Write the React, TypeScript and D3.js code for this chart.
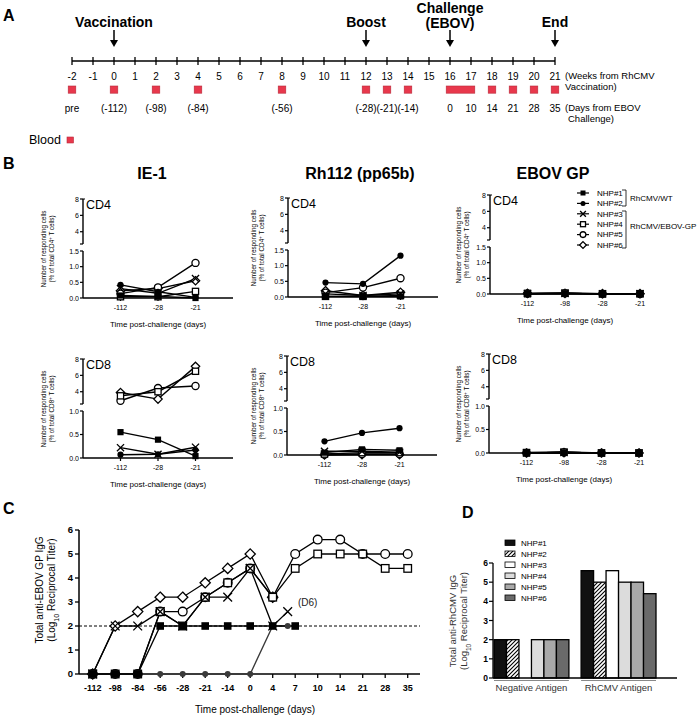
import React from 'react';
import * as d3 from 'd3';

const FONT = "'Liberation Sans', Arial, Helvetica, sans-serif";

// ---------- Panel A data ----------
const weekTicks = [-2, -1, 0, 1, 2, 3, 4, 5, 6, 7, 8, 9, 10, 11, 12, 13, 14, 15, 16, 17, 18, 19, 20, 21];
const bloodWeeks = [-2, 0, 2, 4, 8, 12, 13, 14, 18, 19, 20, 21];
const bloodSpan = [16, 17];
const dayLabelWeeks = [-2, 0, 2, 4, 8, 12, 13, 14, 16, 17, 18, 19, 20, 21];
const dayLabelTexts = ['pre', '(-112)', '(-98)', '(-84)', '(-56)', '(-28)', '(-21)', '(-14)', '0', '10', '14', '21', '28', '35'];
const eventWeeks = [0, 12, 16, 21];
const eventNames = [['Vaccination'], ['Boost'], ['Challenge', '(EBOV)'], ['End']];

// ---------- Panel B data ----------
const nhpNames = ['NHP#1', 'NHP#2', 'NHP#3', 'NHP#4', 'NHP#5', 'NHP#6'];
const nhpMarkers = ['sq', 'ci', 'x', 'osq', 'oci', 'odi'];
const bCats3 = ['-112', '-28', '-21'];
const bCats4 = ['-112', '-98', '-28', '-21'];
const ie1CD4 = [
  [0.08, 0.05, 0.0],
  [0.42, 0.2, 0.02],
  [0.3, 0.15, 0.62],
  [0.04, 0.04, 0.21],
  [0.14, 0.34, 1.12],
  [0.23, 0.3, 0.55],
];
const rh112CD4 = [
  [0.02, 0.02, 0.02],
  [0.46, 0.42, 1.32],
  [0.1, 0.05, 0.1],
  [0.02, 0.02, 0.05],
  [0.14, 0.3, 0.6],
  [0.2, 0.05, 0.15],
];
const ebovCD4 = [
  [0.01, 0.02, 0.0, 0.0],
  [0.01, 0.02, 0.0, 0.0],
  [0.01, 0.02, 0.0, 0.01],
  [0.02, 0.03, 0.01, 0.01],
  [0.01, 0.02, 0.0, 0.0],
  [0.02, 0.02, 0.01, 0.01],
];
const ie1CD8 = [
  [0.55, 0.39, 0.04],
  [0.07, 0.08, 0.17],
  [0.22, 0.08, 0.23],
  [3.5, 4.0, 6.5],
  [2.9, 4.45, 4.7],
  [3.9, 3.1, 7.1],
];
const rh112CD8 = [
  [0.05, 0.12, 0.1],
  [0.29, 0.47, 0.57],
  [0.08, 0.08, 0.06],
  [0.02, 0.05, 0.05],
  [0.01, 0.02, 0.02],
  [0.0, 0.01, 0.01],
];
const ebovCD8 = [
  [0.0, 0.01, 0.0, 0.0],
  [0.0, 0.01, 0.0, 0.0],
  [0.0, 0.01, 0.0, 0.0],
  [0.01, 0.02, 0.0, 0.0],
  [0.0, 0.01, 0.0, 0.0],
  [0.0, 0.01, 0.0, 0.0],
];

// ---------- Panel C data ----------
const cTickDays = [-112, -98, -84, -56, -28, -21, -14, 0, 4, 7, 10, 14, 21, 28, 35];
const cDaysNHP1 = [-112, -98, -84, -56, -28, -21, -14, 0, 4, 7];
const cValsNHP1 = [0, 0, 0, 2, 2, 2, 2, 2, 2, 2];
const cDaysNHP2 = [-112, -98, -84, -56, -28, -21, -14, 0, 4, 6];
const cValsNHP2 = [0, 0, 0, 0, 0, 0, 0, 0, 2, 2];
const cDaysNHP3 = [-112, -98, -84, -56, -28, -21, -14, 0, 4, 6];
const cValsNHP3 = [0, 2, 2, 2.6, 2, 3.2, 3.2, 4.4, 2, 2.6];
const cDaysNHP4 = [-112, -98, -84, -56, -28, -21, -14, 0, 4, 7, 10, 14, 21, 28, 35];
const cValsNHP4 = [0, 0, 0, 2.6, 2, 3.2, 3.8, 4.4, 3.2, 4.4, 5, 5, 5, 4.4, 4.4];
const cDaysNHP5 = [-112, -98, -84, -56, -28, -21, -14, 0, 4, 7, 10, 14, 21, 28, 35];
const cValsNHP5 = [0, 0, 0, 2.6, 2.6, 3.2, 3.8, 4.4, 3.2, 5, 5.6, 5.6, 5, 5, 5];
const cDaysNHP6 = [-112, -98, -84, -56, -28, -21, -14, 0, 4];
const cValsNHP6 = [0, 2, 2.6, 3.2, 3.2, 3.8, 4.4, 5, 3.2];
const cThreshold = 2;
const cYTicks = [0, 1, 2, 3, 4, 5, 6];

// ---------- Panel D data ----------
const dGroups = ['Negative Antigen', 'RhCMV Antigen'];
const dNegative = [2, 2, null, 2, 2, 2];
const dRhCMV = [5.6, 5.0, 5.6, 5.0, 5.0, 4.4];
const dFills = ['#111111', 'url(#hatch)', '#ffffff', '#dcdcdc', '#a9a9a9', '#6a6a6a'];
const dYTicks = [0, 1, 2, 3, 4, 5, 6];

function Marker({ type, x, y, s = 3, fill }: { type: string; x: number; y: number; s?: number; fill?: string }) {
  const sw = 1.3;
  switch (type) {
    case 'sq':
      return <rect x={x - s} y={y - s} width={2 * s} height={2 * s} fill="#000" />;
    case 'osq':
      return <rect x={x - s} y={y - s} width={2 * s} height={2 * s} fill="#fff" stroke="#000" strokeWidth={sw} />;
    case 'ci':
      return <circle cx={x} cy={y} r={s} fill={fill || '#000'} />;
    case 'oci':
      return <circle cx={x} cy={y} r={s * 1.15} fill="#fff" stroke="#000" strokeWidth={sw} />;
    case 'odi': {
      const d = s * 1.35;
      return <path d={`M${x},${y - d}L${x + d},${y}L${x},${y + d}L${x - d},${y}Z`} fill="#fff" stroke="#000" strokeWidth={sw} />;
    }
    case 'x': {
      const d = s * 1.15;
      return <path d={`M${x - d},${y - d}L${x + d},${y + d}M${x + d},${y - d}L${x - d},${y + d}`} stroke="#000" strokeWidth={sw} fill="none" />;
    }
  }
  return null;
}

function SubPlot({ axisX, y0, cats, data, bottomMax, bottomTicks, cell, lab1, lab2, legend }: any) {
  const base = y0 + 99;
  const low = d3.scaleLinear().domain([0, bottomMax]).range([base, y0 + 52]);
  const high = d3.scaleLinear().domain([2.5, 8]).range([y0 + 45, y0]);
  const y = (v: number) => (v <= bottomMax ? low(v) : high(v));
  const x = d3.scaleLinear().domain([0, 4]).range([axisX, axisX + 150]);
  const line = d3.line<number>().x((_, i) => x(i + 1)).y((v) => y(v));
  const midY = y0 + 50;
  const order = [5, 4, 3, 2, 1, 0];
  return (
    <g fontFamily={FONT}>
      <line x1={axisX} x2={axisX} y1={y0} y2={y0 + 45} stroke="#000" strokeWidth={1.4} />
      <line x1={axisX - 3} x2={axisX} y1={y0 + 45} y2={y0 + 45} stroke="#000" strokeWidth={1.2} />
      <line x1={axisX} x2={axisX + 2} y1={y0} y2={y0} stroke="#000" strokeWidth={1.2} />
      {[4, 6, 8].map((t) => (
        <g key={'h' + t}>
          <line x1={axisX - 3} x2={axisX} y1={high(t)} y2={high(t)} stroke="#000" strokeWidth={1.2} />
          <text x={axisX - 4} y={high(t) + 2.5} fontSize={7} textAnchor="end">{t}</text>
        </g>
      ))}
      <line x1={axisX} x2={axisX} y1={y0 + 52} y2={base} stroke="#000" strokeWidth={1.4} />
      {bottomTicks.map((t: number) => (
        <g key={'l' + t}>
          <line x1={axisX - 3} x2={axisX} y1={low(t)} y2={low(t)} stroke="#000" strokeWidth={1.2} />
          <text x={axisX - 4} y={low(t) + 2.5} fontSize={7} textAnchor="end">{t.toFixed(1)}</text>
        </g>
      ))}
      <line x1={axisX} x2={axisX + 150} y1={base} y2={base} stroke="#000" strokeWidth={1.4} />
      {cats.map((c: string, i: number) => (
        <g key={c}>
          <line x1={x(i + 1)} x2={x(i + 1)} y1={base} y2={base + 3} stroke="#000" strokeWidth={1.2} />
          <text x={x(i + 1)} y={base + 12} fontSize={7} textAnchor="middle">{c}</text>
        </g>
      ))}
      <text x={axisX + 75} y={base + 29} fontSize={8} textAnchor="middle">Time post-challenge (days)</text>
      <text x={axisX + 3} y={y0 + 10} fontSize={12.5}>{cell}</text>
      {lab1 !== null && (
        <text transform={`translate(${lab1},${midY}) rotate(-90)`} fontSize={6.3} textAnchor="middle">Number of responding cells</text>
      )}
      <text transform={`translate(${lab2},${midY}) rotate(-90)`} fontSize={6.3} textAnchor="middle">
        (% of total {cell}<tspan baselineShift="super" fontSize={4.5}>+</tspan> T cells)
      </text>
      {order.map((k) => (
        <path key={'ln' + k} d={line(data[k]) || ''} fill="none" stroke="#000" strokeWidth={1.4} />
      ))}
      {order.map((k) =>
        data[k].map((v: number, i: number) => <Marker key={k + '-' + i} type={nhpMarkers[k]} x={x(i + 1)} y={y(v)} s={3.1} />)
      )}
      {legend && (
        <g>
          {nhpNames.map((n, i) => {
            const ly = 193 + i * 10.4;
            return (
              <g key={n}>
                <line x1={577} x2={589} y1={ly} y2={ly} stroke="#000" strokeWidth={1.2} />
                <Marker type={nhpMarkers[i]} x={583} y={ly} s={2.5} />
                <text x={597} y={ly + 2.8} fontSize={8}>{n}</text>
              </g>
            );
          })}
          <path d="M622,190H626V206H622" fill="none" stroke="#000" strokeWidth={0.8} />
          <text x={630} y={201} fontSize={8}>RhCMV/WT</text>
          <path d="M622,211H626V248H622" fill="none" stroke="#000" strokeWidth={0.8} />
          <text x={630} y={229} fontSize={8}>RhCMV/EBOV-GP</text>
        </g>
      )}
    </g>
  );
}

function PanelA() {
  const xw = d3.scaleLinear().domain([-2, 21]).range([72, 555]);
  const red = '#e8384c';
  return (
    <g fontFamily={FONT}>
      <text x={3} y={21} fontSize={16} fontWeight="bold">A</text>
      {eventWeeks.map((w, i) => {
        const names = eventNames[i];
        const cx = xw(w);
        return (
          <g key={w}>
            {names.map((n, j) => (
              <text key={n} x={cx} y={names.length === 2 ? 13 + j * 15 : 27} fontSize={14} fontWeight="bold" textAnchor="middle">{n}</text>
            ))}
            <line x1={cx} x2={cx} y1={30} y2={41} stroke="#000" strokeWidth={1.5} />
            <path d={`M${cx - 4},${40}L${cx + 4},${40}L${cx},${47}Z`} fill="#000" />
          </g>
        );
      })}
      <line x1={xw(-2)} x2={xw(21)} y1={61} y2={61} stroke="#000" strokeWidth={1.5} />
      {weekTicks.map((w) => (
        <g key={w}>
          <line x1={xw(w)} x2={xw(w)} y1={57} y2={65} stroke="#000" strokeWidth={1.3} />
          <text x={xw(w)} y={80} fontSize={10} textAnchor="middle">{w}</text>
        </g>
      ))}
      {bloodWeeks.map((w) => (
        <rect key={w} x={xw(w) - 3.8} y={86} width={7.6} height={7.2} fill={red} stroke="#b8283a" strokeWidth={0.6} />
      ))}
      <rect x={xw(bloodSpan[0]) - 3.8} y={86} width={xw(bloodSpan[1]) - xw(bloodSpan[0]) + 7.6} height={7.2} fill={red} stroke="#b8283a" strokeWidth={0.6} />
      {dayLabelWeeks.map((w, i) => (
        <text key={w} x={xw(w)} y={112} fontSize={10} textAnchor="middle">{dayLabelTexts[i]}</text>
      ))}
      <text x={565} y={79} fontSize={9.5}>(Weeks from RhCMV</text>
      <text x={565} y={90} fontSize={9.5}>Vaccination)</text>
      <text x={565} y={111} fontSize={9.5}>(Days from EBOV</text>
      <text x={568} y={122} fontSize={9.5}>Challenge)</text>
      <text x={29} y={144} fontSize={12.5}>Blood</text>
      <rect x={67} y={137} width={6.5} height={6} fill={red} stroke="#b8283a" strokeWidth={0.6} />
    </g>
  );
}

function PanelC() {
  const xp = d3.scalePoint<number>().domain(cTickDays).range([92.7, 407.7]);
  const xs = d3.scaleLinear().domain(cTickDays).range(cTickDays.map((d) => xp(d) as number));
  const y = d3.scaleLinear().domain([0, 6]).range([674, 530]);
  const series = [
    { days: cDaysNHP6, vals: cValsNHP6, m: 'odi' },
    { days: cDaysNHP5, vals: cValsNHP5, m: 'oci' },
    { days: cDaysNHP4, vals: cValsNHP4, m: 'osq' },
    { days: cDaysNHP3, vals: cValsNHP3, m: 'x' },
    { days: cDaysNHP2, vals: cValsNHP2, m: 'ci' },
    { days: cDaysNHP1, vals: cValsNHP1, m: 'sq' },
  ];
  const grey = '#3a3a3a';
  return (
    <g fontFamily={FONT}>
      <text x={3} y={514} fontSize={16} fontWeight="bold">C</text>
      <line x1={79} x2={420} y1={y(cThreshold)} y2={y(cThreshold)} stroke="#000" strokeWidth={1} strokeDasharray="3,2" />
      <line x1={79} x2={79} y1={530} y2={674} stroke="#000" strokeWidth={1.5} />
      <line x1={79} x2={420} y1={674} y2={674} stroke="#000" strokeWidth={1.5} />
      {cYTicks.map((t) => (
        <g key={t}>
          <line x1={75} x2={79} y1={y(t)} y2={y(t)} stroke="#000" strokeWidth={1.3} />
          <text x={73} y={y(t) + 3.3} fontSize={9.5} fontWeight="bold" textAnchor="end">{t}</text>
        </g>
      ))}
      {cTickDays.map((d) => (
        <g key={d}>
          <line x1={xp(d)} x2={xp(d)} y1={674} y2={678} stroke="#000" strokeWidth={1.3} />
          <text x={xp(d)} y={691} fontSize={9} fontWeight="bold" textAnchor="middle">{d}</text>
        </g>
      ))}
      <text x={255} y={713} fontSize={10} textAnchor="middle">Time post-challenge (days)</text>
      <text transform="translate(43,590) rotate(-90)" fontSize={10} textAnchor="middle">Total anti-EBOV GP IgG</text>
      <text transform="translate(55,590) rotate(-90)" fontSize={10} textAnchor="middle">
        (Log<tspan baselineShift="sub" fontSize={7}>10</tspan> Reciprocal Titer)
      </text>
      {series.map((s, k) => {
        const pts = s.days.map((d, i) => [xs(d), y(s.vals[i])] as [number, number]);
        return <path key={'l' + k} d={d3.line()(pts) || ''} fill="none" stroke={s.m === 'ci' ? grey : '#000'} strokeWidth={1.3} />;
      })}
      {series.map((s, k) =>
        s.days.map((d, i) => (
          <Marker key={k + '-' + i} type={s.m} x={xs(d)} y={y(s.vals[i])} s={s.m === 'ci' ? 3 : 3.8} fill={grey} />
        ))
      )}
      <text x={298} y={606} fontSize={10} fill="#222">(D6)</text>
    </g>
  );
}

function PanelD() {
  const y = d3.scaleLinear().domain([0, 6]).range([678, 563]);
  const x0 = d3.scaleBand<string>().domain(dGroups).range([494, 656]).paddingInner(0.14);
  const x1 = d3.scaleBand<string>().domain(nhpNames).range([0, x0.bandwidth()]);
  const groupVals = [dNegative, dRhCMV];
  return (
    <g fontFamily={FONT}>
      <defs>
        <pattern id="hatch" patternUnits="userSpaceOnUse" width={4} height={4}>
          <rect width={4} height={4} fill="#fff" />
          <path d="M-1,1L1,-1M0,4L4,0M3,5L5,3" stroke="#000" strokeWidth={1.1} />
        </pattern>
      </defs>
      <text x={462} y={518} fontSize={16} fontWeight="bold">D</text>
      {dGroups.map((g, gi) =>
        groupVals[gi].map((v, i) =>
          v === null ? null : (
            <rect key={g + i} x={(x0(g) as number) + (x1(nhpNames[i]) as number)} y={y(v)} width={x1.bandwidth()} height={678 - y(v)} fill={dFills[i]} stroke="#000" strokeWidth={1.3} />
          )
        )
      )}
      <line x1={493} x2={493} y1={563} y2={678} stroke="#000" strokeWidth={1.3} />
      <line x1={493} x2={677} y1={678} y2={678} stroke="#000" strokeWidth={1.3} />
      {dYTicks.map((t) => (
        <g key={t}>
          <line x1={489} x2={493} y1={y(t)} y2={y(t)} stroke="#000" strokeWidth={1.2} />
          <text x={488} y={y(t) + 3} fontSize={8.5} fontWeight="bold" textAnchor="end">{t}</text>
        </g>
      ))}
      {dGroups.map((g) => (
        <g key={g}>
          <line x1={x0(g) as number} x2={(x0(g) as number) + x0.bandwidth()} y1={680.5} y2={680.5} stroke="#888" strokeWidth={1} />
          <text x={(x0(g) as number) + x0.bandwidth() / 2} y={691} fontSize={9.5} fill="#333" textAnchor="middle">{g}</text>
        </g>
      ))}
      <text transform="translate(456,621) rotate(-90)" fontSize={9.5} fill="#333" textAnchor="middle">Total anti-RhCMV IgG</text>
      <text transform="translate(467,621) rotate(-90)" fontSize={9.5} fill="#333" textAnchor="middle">
        (Log<tspan baselineShift="sub" fontSize={6.5}>10</tspan> Reciprocal Titer)
      </text>
      {nhpNames.map((n, i) => (
        <g key={n}>
          <rect x={505} y={540 + i * 11} width={10} height={5.5} fill={dFills[i]} stroke="#000" strokeWidth={0.8} />
          <text x={521} y={546 + i * 11} fontSize={8}>{n}</text>
        </g>
      ))}
    </g>
  );
}

export default function App() {
  return (
    <svg width={700} height={727} style={{ position: 'absolute', left: 0, top: 0, background: '#fff' }}>
      <rect width={700} height={727} fill="#fff" />
      <PanelA />
      <g fontFamily={FONT}>
        <text x={3} y={169} fontSize={16} fontWeight="bold">B</text>
        <text x={152} y={179} fontSize={16} fontWeight="bold" textAnchor="middle">IE-1</text>
        <text x={360} y={179} fontSize={16} fontWeight="bold" textAnchor="middle">Rh112 (pp65b)</text>
        <text x={553} y={179} fontSize={16} fontWeight="bold" textAnchor="middle">EBOV GP</text>
      </g>
      <SubPlot axisX={83} y0={199} cats={bCats3} data={ie1CD4} bottomMax={1.5} bottomTicks={[0, 0.5, 1.0, 1.5]} cell="CD4" lab1={46} lab2={54} />
      <SubPlot axisX={288} y0={198} cats={bCats3} data={rh112CD4} bottomMax={1.5} bottomTicks={[0, 0.5, 1.0, 1.5]} cell="CD4" lab1={256} lab2={264} />
      <SubPlot axisX={490} y0={195} cats={bCats4} data={ebovCD4} bottomMax={1.5} bottomTicks={[0, 0.5, 1.0, 1.5]} cell="CD4" lab1={461} lab2={469} legend />
      <SubPlot axisX={83} y0={359} cats={bCats3} data={ie1CD8} bottomMax={1.0} bottomTicks={[0, 0.5, 1.0]} cell="CD8" lab1={46} lab2={54} />
      <SubPlot axisX={287} y0={356} cats={bCats3} data={rh112CD8} bottomMax={1.0} bottomTicks={[0, 0.5, 1.0]} cell="CD8" lab1={256} lab2={264} />
      <SubPlot axisX={489} y0={354} cats={bCats4} data={ebovCD8} bottomMax={1.0} bottomTicks={[0, 0.5, 1.0]} cell="CD8" lab1={461} lab2={469} />
      <PanelC />
      <PanelD />
    </svg>
  );
}
